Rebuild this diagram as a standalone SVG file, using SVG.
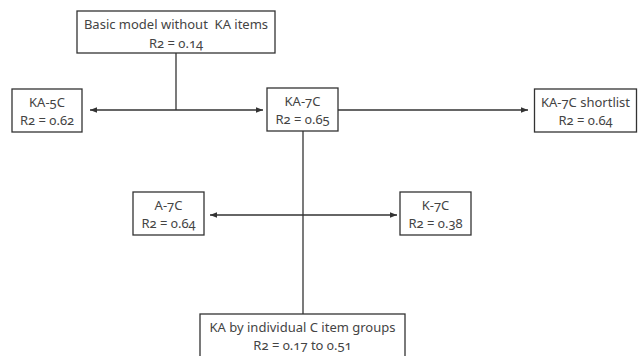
<svg xmlns="http://www.w3.org/2000/svg" width="638" height="356" viewBox="0 0 638 356">
<style>
.box{fill:#fff;stroke:#333;stroke-width:1.3}
.ln{fill:none;stroke:#333;stroke-width:1.3}
text{font-family:"Noto Sans","Open Sans",sans-serif;font-size:13px;fill:#444;text-anchor:middle;font-variant-numeric:oldstyle-nums;white-space:pre}
</style>
<defs>
<marker id="ah" viewBox="0 0 10 10" refX="10" refY="5" markerWidth="7" markerHeight="7" orient="auto-start-reverse" markerUnits="userSpaceOnUse">
<path d="M0,1 L10,5 L0,9 Z" fill="#333"/>
</marker>
</defs>
<rect width="638" height="356" fill="#fff"/>
<g id="connectors">
<line class="ln" x1="176" y1="53" x2="176" y2="110"/>
<line class="ln" x1="90" y1="110" x2="263" y2="110" marker-start="url(#ah)" marker-end="url(#ah)"/>
<line class="ln" x1="338" y1="110" x2="528" y2="110" marker-end="url(#ah)"/>
<line class="ln" x1="303" y1="131" x2="303" y2="314"/>
<line class="ln" x1="210" y1="215" x2="397" y2="215" marker-start="url(#ah)" marker-end="url(#ah)"/>
</g>
<g id="basic">
<rect class="box" x="77" y="11" width="198" height="42"/>
<text x="176" y="29" xml:space="preserve">Basic model without  KA items</text>
<text x="176" y="48">R2 = 0.14</text>
</g>
<g id="ka5c">
<rect class="box" x="12" y="89" width="70" height="43"/>
<text x="47" y="107">KA-5C</text>
<text x="47" y="125">R2 = 0.62</text>
</g>
<g id="ka7c">
<rect class="box" x="267" y="88" width="71" height="43"/>
<text x="302.5" y="106">KA-7C</text>
<text x="302.5" y="124">R2 = 0.65</text>
</g>
<g id="shortlist">
<rect class="box" x="534.5" y="89" width="102" height="43"/>
<text x="585.5" y="107">KA-7C shortlist</text>
<text x="585.5" y="125">R2 = 0.64</text>
</g>
<g id="a7c">
<rect class="box" x="133" y="192" width="71" height="43"/>
<text x="168.5" y="210">A-7C</text>
<text x="168.5" y="228">R2 = 0.64</text>
</g>
<g id="k7c">
<rect class="box" x="400" y="192" width="71" height="43"/>
<text x="435.5" y="210">K-7C</text>
<text x="435.5" y="228">R2 = 0.38</text>
</g>
<g id="individual">
<rect class="box" x="200" y="314" width="205" height="50"/>
<text x="302.5" y="332">KA by individual C item groups</text>
<text x="302.5" y="350">R2 = 0.17 to 0.51</text>
</g>
</svg>
